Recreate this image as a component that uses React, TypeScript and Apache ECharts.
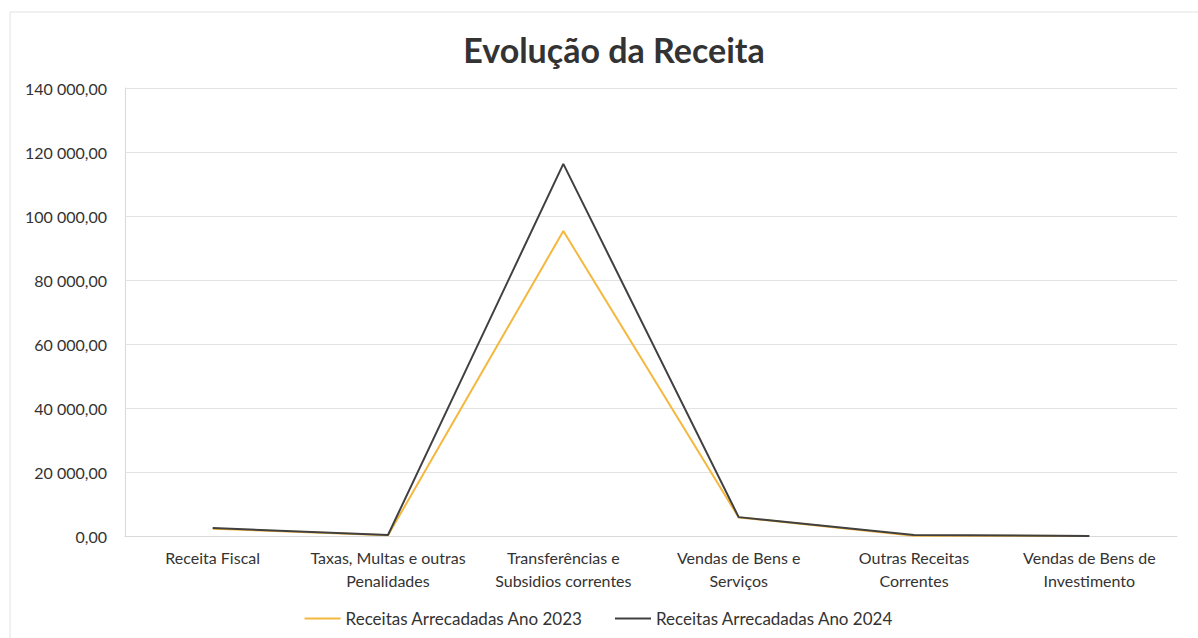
import React, { useEffect, useRef } from "react";
import * as echarts from "echarts";

const categories = [
  "Receita Fiscal",
  "Taxas, Multas e outras\nPenalidades",
  "Transferências e\nSubsidios correntes",
  "Vendas de Bens e\nServiços",
  "Outras Receitas\nCorrentes",
  "Vendas de Bens de\nInvestimento",
];
const receitas2023 = [2300, 200, 95300, 5800, 100, 0];
const receitas2024 = [2500, 300, 116300, 5900, 300, 0];
const seriesNames = ["Receitas Arrecadadas Ano 2023", "Receitas Arrecadadas Ano 2024"];
const titleText = "Evolução da Receita";

const fmt = (v: number) => {
  const s = v.toFixed(2).replace(".", ",");
  const [i, d] = s.split(",");
  return i.replace(/\B(?=(\d{3})+(?!\d))/g, " ") + "," + d;
};

export default function App() {
  const ref = useRef<HTMLDivElement>(null);
  useEffect(() => {
    document.body.style.margin = "0";
    const chart = echarts.init(ref.current!, null, { renderer: "svg" });
    const font = "Lato, 'Open Sans', sans-serif";
    chart.setOption({
      animation: false,
      backgroundColor: "#ffffff",
      textStyle: { fontFamily: font },
      title: {
        text: titleText,
        left: 609,
        textAlign: "center",
        top: 27,
        textStyle: { fontSize: 34, fontWeight: "bold", color: "#333333", fontFamily: font },
      },
      graphic: [
        {
          type: "rect",
          shape: { x: 10, y: 12, width: 1200, height: 640 },
          style: { fill: "none", stroke: "#e2e2e2", lineWidth: 1 },
          silent: true,
        },
      ],
      grid: { left: 125, right: 21, top: 88, bottom: 102 },
      legend: {
        data: seriesNames,
        left: "center",
        top: 610,
        padding: 0,
        icon: "rect",
        itemWidth: 36,
        itemHeight: 2,
        itemGap: 32,
        textStyle: { fontSize: 17, color: "#333333", fontFamily: font },
      },
      xAxis: {
        type: "category",
        data: categories,
        boundaryGap: true,
        axisLine: { show: true, lineStyle: { color: "#d9d9d9" } },
        axisTick: { show: false },
        axisLabel: {
          interval: 0,
          margin: 10,
          fontSize: 16,
          lineHeight: 23,
          color: "#333333",
          fontFamily: font,
        },
      },
      yAxis: {
        type: "value",
        min: 0,
        max: 140000,
        interval: 20000,
        axisLine: { show: true, lineStyle: { color: "#d9d9d9" } },
        axisTick: { show: false },
        splitLine: { lineStyle: { color: "#e3e3e3" } },
        axisLabel: {
          margin: 18,
          fontSize: 16,
          color: "#333333",
          fontFamily: font,
          formatter: (v: number) => fmt(v),
        },
      },
      series: [
        {
          name: seriesNames[0],
          type: "line",
          data: receitas2023,
          symbol: "none",
          lineStyle: { color: "#f4b83f", width: 2 },
          itemStyle: { color: "#f4b83f" },
          z: 2,
        },
        {
          name: seriesNames[1],
          type: "line",
          data: receitas2024,
          symbol: "none",
          lineStyle: { color: "#404040", width: 2 },
          itemStyle: { color: "#404040" },
          z: 3,
        },
      ],
    });
    return () => chart.dispose();
  }, []);
  return <div ref={ref} style={{ width: 1198, height: 638, position: "absolute", left: 0, top: 0 }} />;
}
